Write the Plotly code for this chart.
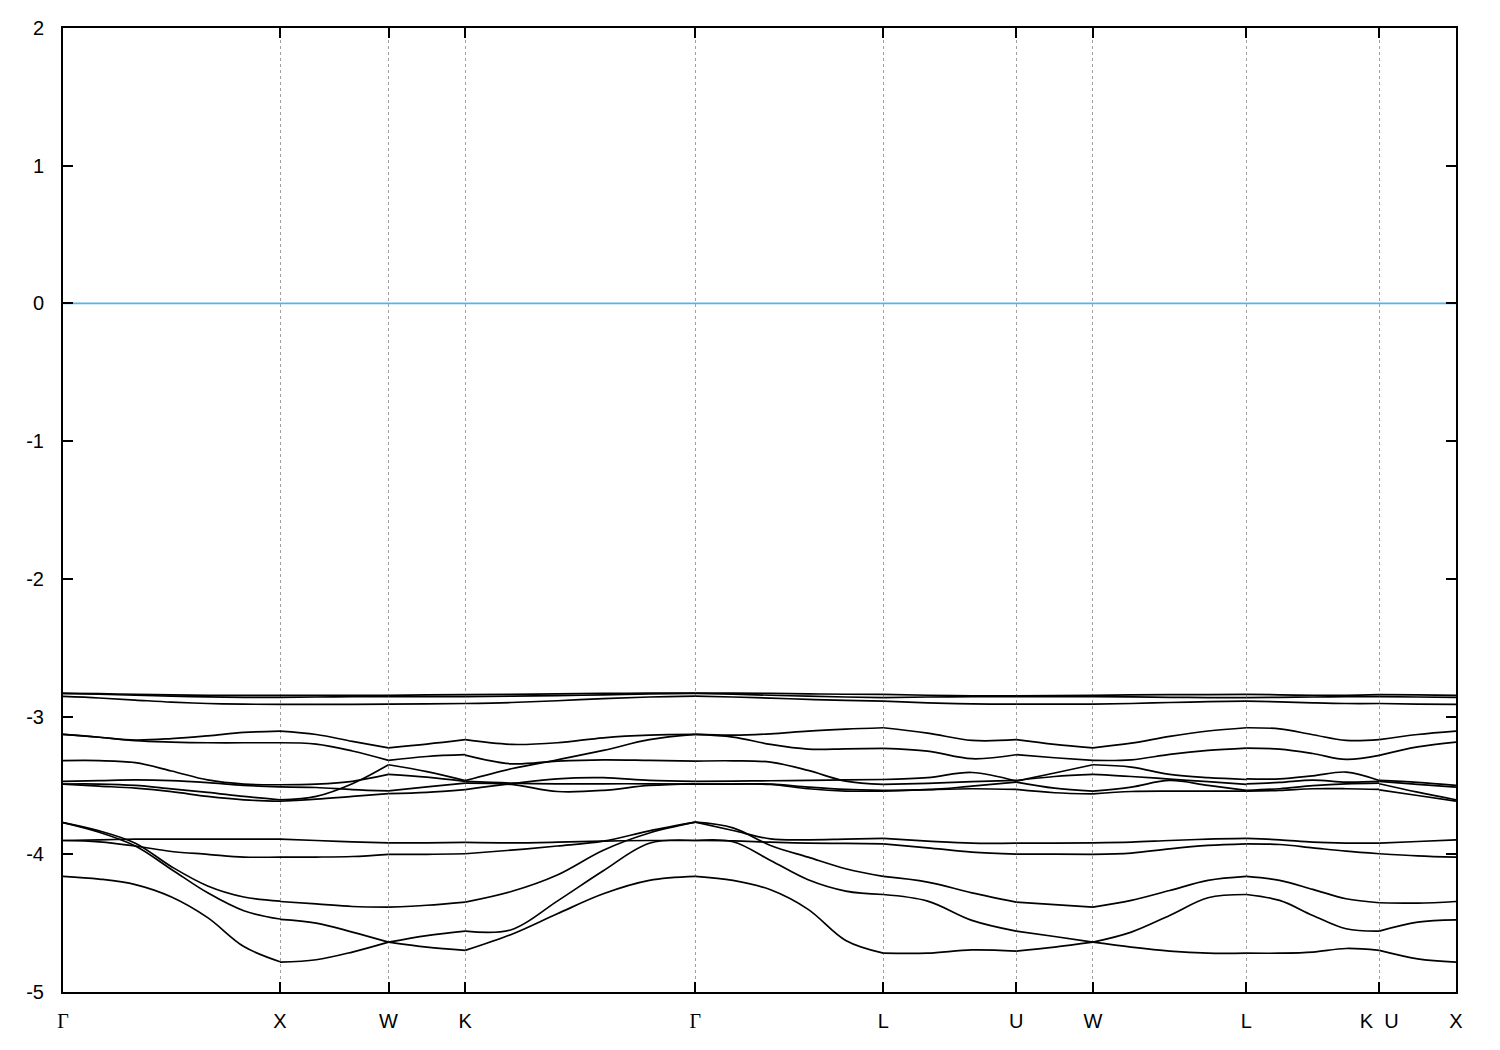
import numpy as np
import plotly.graph_objects as go

# High-symmetry points along the k-path
HS_LABELS = ["<span style='font-family:Liberation Serif'>Γ</span>", "X", "W", "K",
             "<span style='font-family:Liberation Serif'>Γ</span>", "L", "U", "W", "L",
             "K\u00a0\u00a0U", "X"]
HS_K = [0.0, 1.0, 1.5, 1.8536, 2.9142, 3.7802, 4.3926, 4.7462, 5.4533, 6.0657, 6.4193]

Y_TICKS = [-5, -4, -3, -2, -1, 0, 1, 2]
Y_TICK_TEXT = ["-5", "-4", "-3", "-2", "-1", "0", "1", "2"]
FERMI = [0.0, 0.0]

# Band energies (eV) sampled evenly along each path segment
SEG_G_X = [
    [-2.832, -2.834, -2.838, -2.842, -2.845, -2.846, -2.846],
    [-2.832, -2.838, -2.845, -2.852, -2.857, -2.860, -2.860],
    [-2.854, -2.865, -2.880, -2.895, -2.905, -2.910, -2.912],
    [-3.13, -3.15, -3.17, -3.16, -3.14, -3.115, -3.105],
    [-3.13, -3.15, -3.175, -3.185, -3.19, -3.19, -3.19],
    [-3.32, -3.32, -3.335, -3.395, -3.46, -3.49, -3.495],
    [-3.47, -3.465, -3.46, -3.465, -3.48, -3.50, -3.51],
    [-3.49, -3.49, -3.50, -3.525, -3.55, -3.58, -3.605],
    [-3.49, -3.505, -3.52, -3.545, -3.58, -3.605, -3.615],
    [-3.90, -3.895, -3.89, -3.89, -3.89, -3.89, -3.89],
    [-3.90, -3.91, -3.94, -3.98, -4.00, -4.02, -4.02],
    [-3.77, -3.83, -3.92, -4.09, -4.23, -4.31, -4.34],
    [-3.77, -3.84, -3.94, -4.11, -4.28, -4.41, -4.47],
    [-4.16, -4.18, -4.22, -4.31, -4.46, -4.67, -4.78],
]
SEG_X_W = [
    [-2.846, -2.846, -2.846, -2.846],
    [-2.860, -2.858, -2.856, -2.855],
    [-2.912, -2.912, -2.911, -2.910],
    [-3.105, -3.13, -3.18, -3.227],
    [-3.19, -3.20, -3.25, -3.318],
    [-3.605, -3.58, -3.488, -3.35],
    [-3.495, -3.49, -3.47, -3.42],
    [-3.51, -3.515, -3.53, -3.54],
    [-3.615, -3.60, -3.58, -3.56],
    [-3.89, -3.90, -3.91, -3.917],
    [-4.02, -4.02, -4.016, -4.00],
    [-4.343, -4.36, -4.379, -4.384],
    [-4.473, -4.50, -4.565, -4.638],
    [-4.783, -4.766, -4.71, -4.638],
]
SEG_W_K = [
    [-2.846, -2.843, -2.840],
    [-2.855, -2.855, -2.855],
    [-2.910, -2.908, -2.905],
    [-3.227, -3.20, -3.168],
    [-3.318, -3.29, -3.277],
    [-3.35, -3.40, -3.465],
    [-3.42, -3.44, -3.471],
    [-3.54, -3.51, -3.483],
    [-3.56, -3.55, -3.53],
    [-3.917, -3.917, -3.914],
    [-4.00, -4.00, -3.996],
    [-4.384, -4.37, -4.347],
    [-4.638, -4.674, -4.698],
    [-4.638, -4.59, -4.558],
]
SEG_K_G = [
    [-2.840, -2.838, -2.835, -2.832, -2.830, -2.830],
    [-2.855, -2.852, -2.848, -2.842, -2.835, -2.832],
    [-2.905, -2.898, -2.885, -2.870, -2.858, -2.852],
    [-3.168, -3.202, -3.19, -3.154, -3.135, -3.13],
    [-3.465, -3.379, -3.314, -3.246, -3.168, -3.13],
    [-3.28, -3.343, -3.323, -3.314, -3.318, -3.323],
    [-3.53, -3.488, -3.452, -3.444, -3.464, -3.471],
    [-3.483, -3.493, -3.544, -3.536, -3.50, -3.488],
    [-3.471, -3.483, -3.488, -3.488, -3.488, -3.49],
    [-3.914, -3.917, -3.912, -3.904, -3.90, -3.90],
    [-3.996, -3.97, -3.94, -3.905, -3.83, -3.767],
    [-4.347, -4.27, -4.15, -3.97, -3.845, -3.767],
    [-4.558, -4.548, -4.34, -4.12, -3.92, -3.90],
    [-4.698, -4.582, -4.432, -4.287, -4.19, -4.161],
]
SEG_G_L = [
    [-2.830, -2.830, -2.832, -2.835, -2.838, -2.839],
    [-2.832, -2.838, -2.845, -2.852, -2.858, -2.863],
    [-2.852, -2.858, -2.866, -2.875, -2.883, -2.888],
    [-3.13, -3.135, -3.125, -3.105, -3.091, -3.081],
    [-3.13, -3.149, -3.202, -3.236, -3.234, -3.231],
    [-3.323, -3.321, -3.331, -3.391, -3.469, -3.493],
    [-3.471, -3.469, -3.466, -3.464, -3.46, -3.457],
    [-3.49, -3.49, -3.49, -3.512, -3.529, -3.536],
    [-3.49, -3.49, -3.493, -3.524, -3.541, -3.541],
    [-3.767, -3.827, -3.888, -3.895, -3.89, -3.885],
    [-3.767, -3.808, -3.936, -4.021, -4.105, -4.161],
    [-3.90, -3.902, -3.912, -3.919, -3.921, -3.924],
    [-3.90, -3.909, -4.045, -4.185, -4.267, -4.292],
    [-4.161, -4.19, -4.258, -4.40, -4.626, -4.718],
]
SEG_L_U = [
    [-2.839, -2.845, -2.850, -2.850],
    [-2.863, -2.858, -2.856, -2.856],
    [-2.888, -2.900, -2.908, -2.910],
    [-3.081, -3.12, -3.173, -3.168],
    [-3.231, -3.251, -3.306, -3.277],
    [-3.457, -3.444, -3.406, -3.469],
    [-3.493, -3.485, -3.473, -3.464],
    [-3.536, -3.531, -3.505, -3.476],
    [-3.541, -3.531, -3.524, -3.529],
    [-3.885, -3.904, -3.919, -3.919],
    [-3.924, -3.953, -3.984, -3.999],
    [-4.161, -4.202, -4.28, -4.347],
    [-4.292, -4.34, -4.48, -4.558],
    [-4.718, -4.718, -4.694, -4.703],
]
SEG_U_W = [
    [-2.850, -2.848, -2.846],
    [-2.856, -2.856, -2.855],
    [-2.910, -2.910, -2.910],
    [-3.168, -3.202, -3.227],
    [-3.277, -3.299, -3.318],
    [-3.469, -3.41, -3.35],
    [-3.464, -3.435, -3.42],
    [-3.476, -3.52, -3.541],
    [-3.529, -3.553, -3.561],
    [-3.919, -3.919, -3.917],
    [-3.999, -3.999, -4.00],
    [-4.347, -4.366, -4.384],
    [-4.558, -4.597, -4.638],
    [-4.703, -4.674, -4.638],
]
SEG_W_L = [
    [-2.846, -2.843, -2.841, -2.840, -2.839],
    [-2.855, -2.857, -2.860, -2.862, -2.863],
    [-2.910, -2.905, -2.898, -2.892, -2.888],
    [-3.227, -3.193, -3.144, -3.105, -3.081],
    [-3.318, -3.314, -3.275, -3.246, -3.229],
    [-3.35, -3.367, -3.42, -3.444, -3.457],
    [-3.42, -3.435, -3.454, -3.473, -3.493],
    [-3.541, -3.512, -3.464, -3.50, -3.536],
    [-3.561, -3.544, -3.541, -3.541, -3.541],
    [-3.917, -3.912, -3.90, -3.89, -3.885],
    [-4.00, -3.991, -3.96, -3.936, -3.924],
    [-4.384, -4.335, -4.263, -4.19, -4.161],
    [-4.638, -4.565, -4.444, -4.316, -4.292],
    [-4.638, -4.674, -4.703, -4.718, -4.718],
]
SEG_L_K = [
    [-2.839, -2.842, -2.845, -2.845, -2.840],
    [-2.863, -2.860, -2.858, -2.856, -2.855],
    [-2.888, -2.893, -2.900, -2.905, -2.905],
    [-3.081, -3.089, -3.132, -3.173, -3.168],
    [-3.229, -3.236, -3.268, -3.311, -3.282],
    [-3.452, -3.452, -3.43, -3.403, -3.464],
    [-3.488, -3.478, -3.461, -3.476, -3.471],
    [-3.536, -3.524, -3.502, -3.488, -3.483],
    [-3.541, -3.536, -3.524, -3.524, -3.529],
    [-3.885, -3.895, -3.912, -3.919, -3.919],
    [-3.924, -3.929, -3.953, -3.977, -3.996],
    [-4.161, -4.19, -4.255, -4.323, -4.352],
    [-4.292, -4.335, -4.444, -4.541, -4.558],
    [-4.718, -4.718, -4.71, -4.684, -4.698],
]
SEG_U_X = [
    [-2.840, -2.843, -2.846],
    [-2.855, -2.858, -2.860],
    [-2.905, -2.910, -2.912],
    [-3.168, -3.13, -3.105],
    [-3.282, -3.22, -3.185],
    [-3.464, -3.478, -3.50],
    [-3.471, -3.493, -3.512],
    [-3.488, -3.549, -3.604],
    [-3.532, -3.573, -3.614],
    [-3.919, -3.907, -3.895],
    [-3.996, -4.011, -4.021],
    [-4.352, -4.355, -4.343],
    [-4.558, -4.493, -4.476],
    [-4.698, -4.759, -4.783],
]

SEGMENTS = [SEG_G_X, SEG_X_W, SEG_W_K, SEG_K_G, SEG_G_L,
            SEG_L_U, SEG_U_W, SEG_W_L, SEG_L_K, SEG_U_X]

fig = go.Figure()

# Fermi level
fig.add_trace(go.Scatter(x=[HS_K[0], HS_K[-1]], y=FERMI, mode="lines",
                         line=dict(color="#56b4e9", width=1.8),
                         hoverinfo="skip", showlegend=False))

for i, seg in enumerate(SEGMENTS):
    for band in seg:
        k = np.linspace(HS_K[i], HS_K[i + 1], len(band))
        fig.add_trace(go.Scatter(x=k, y=band, mode="lines",
                                 line=dict(color="black", width=1.7, shape="spline", smoothing=1.0),
                                 hoverinfo="skip", showlegend=False))

font = dict(family="Liberation Sans, Arial, sans-serif", size=20, color="black")

fig.update_layout(
    width=1500, height=1050,
    margin=dict(l=55, r=52, t=20, b=66, autoexpand=False),
    paper_bgcolor="white", plot_bgcolor="white",
    font=font,
    showlegend=False,
)
fig.update_xaxes(
    range=[HS_K[0], HS_K[-1]], automargin=False,
    tickmode="array", tickvals=HS_K, ticktext=HS_LABELS,
    ticks="inside", ticklen=10, tickwidth=2, tickcolor="black",
    showline=True, linewidth=2, linecolor="black", mirror="ticks",
    showgrid=True, gridcolor="#a0a0a0", gridwidth=1, griddash="dot",
    zeroline=False, tickfont=font, ticklabelstandoff=10,
)
fig.update_yaxes(
    range=[-5, 2], automargin=False,
    tickmode="array", tickvals=Y_TICKS, ticktext=Y_TICK_TEXT,
    ticks="inside", ticklen=10, tickwidth=2, tickcolor="black",
    showline=True, linewidth=2, linecolor="black", mirror="ticks",
    showgrid=False, zeroline=False, tickfont=font, ticklabelstandoff=13,
)

fig.write_html("out.html")
